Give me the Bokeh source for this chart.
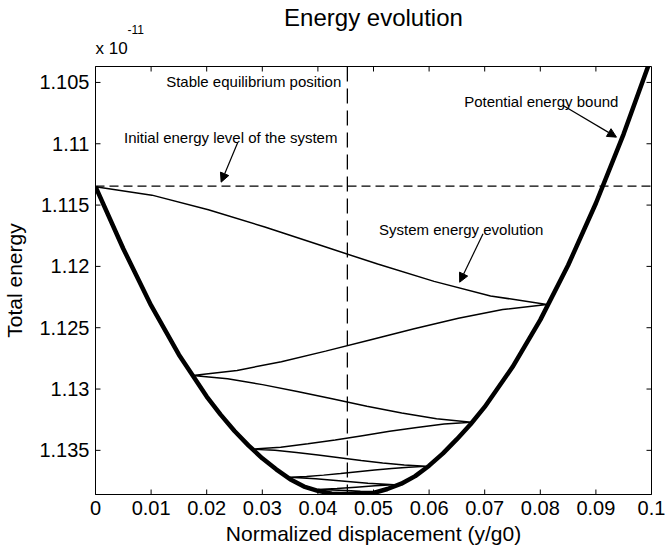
from bokeh.plotting import figure
from bokeh.models import (Range1d, LinearAxis, FixedTicker, CustomJSTickFormatter,
                          Label, Arrow, NormalHead, Span, Title)
from bokeh.embed import file_html
from bokeh.resources import INLINE

# ---------------- data (energy in units of 1e-11) ----------------
x_ticks = [0, 0.01, 0.02, 0.03, 0.04, 0.05, 0.06, 0.07, 0.08, 0.09, 0.1]
y_ticks = [1.105, 1.11, 1.115, 1.12, 1.125, 1.13, 1.135]

# potential energy bound (thick curve)
pot_x = [0, 0.005, 0.01, 0.015, 0.02, 0.0225, 0.025, 0.0275, 0.03, 0.0325, 0.035,
         0.0375, 0.04, 0.0425, 0.045, 0.0475, 0.05, 0.0525, 0.055, 0.0575, 0.06,
         0.0625, 0.065, 0.0675, 0.07, 0.075, 0.08, 0.085, 0.09, 0.095, 0.1]
pot_e = [1.1135, 1.11856, 1.12318, 1.1272, 1.13061, 1.13209, 1.13342, 1.13459,
         1.13565, 1.13655, 1.13735, 1.13795, 1.1383, 1.13853, 1.1386, 1.1386,
         1.13848, 1.13815, 1.13772, 1.1371, 1.13625, 1.13525, 1.13409, 1.13285,
         1.13146, 1.12821, 1.12436, 1.11991, 1.11485, 1.10919, 1.10292]

# system energy evolution (thin line bouncing between the bounds)
traj_x = [0, 0.01015, 0.0203, 0.03045, 0.0406, 0.05075, 0.0609, 0.07105, 0.0812,
          0.07324, 0.06528, 0.05731, 0.04935, 0.04139, 0.03343, 0.02546, 0.0175,
          0.02376, 0.03003, 0.03629, 0.04255, 0.04881, 0.05508, 0.06134, 0.0676,
          0.0627, 0.0578, 0.0529, 0.048, 0.0431, 0.0382, 0.0333, 0.0284,
          0.03228, 0.03615, 0.04003, 0.0439, 0.04778, 0.05165, 0.05553, 0.0594,
          0.05634, 0.05328, 0.05021, 0.04715, 0.04409, 0.04103, 0.03796, 0.0349,
          0.0396, 0.0443, 0.049, 0.0537,
          0.05028, 0.04685, 0.04343, 0.04,
          0.04255, 0.0451, 0.04765, 0.0502,
          0.0462, 0.0422, 0.0453, 0.0484, 0.0462, 0.044]
traj_e = [1.1135, 1.11419, 1.11538, 1.11679, 1.1183, 1.11981, 1.12122, 1.12241, 1.1231,
          1.12352, 1.12423, 1.12509, 1.126, 1.12691, 1.12777, 1.12848, 1.1289,
          1.12917, 1.12964, 1.1302, 1.1308, 1.1314, 1.13196, 1.13243, 1.1327,
          1.13286, 1.13313, 1.13345, 1.1338, 1.13415, 1.13447, 1.13474, 1.1349,
          1.1350, 1.13517, 1.13538, 1.1356, 1.13582, 1.13603, 1.1362, 1.1363,
          1.13637, 1.13648, 1.13661, 1.13675, 1.13689, 1.13702, 1.13714, 1.1372,
          1.13732, 1.1375, 1.13768, 1.1378,
          1.13788, 1.138, 1.13812, 1.1382,
          1.13823, 1.13828, 1.13833, 1.13836,
          1.13841, 1.13846, 1.13849, 1.13851, 1.13853, 1.13855]

initial_energy = 1.11346
equilibrium_x = 0.0453

FONT = "Liberation Sans"
X0, X1 = 0, 0.1
Y_BOTTOM, Y_TOP = 1.1386, 1.1037

p = figure(width=665, height=550, output_backend="svg", toolbar_location=None,
           x_range=Range1d(X0, X1), y_range=Range1d(Y_BOTTOM, Y_TOP),
           x_axis_location=None, y_axis_location=None)
p.min_border_left = 94
p.min_border_right = 14
p.min_border_top = 66
p.min_border_bottom = 56
p.background_fill_color = "white"
p.border_fill_color = "white"
p.outline_line_color = "black"
p.outline_line_width = 1
p.xgrid.visible = False
p.ygrid.visible = False

# titles stacked above the frame: multiplier, superscript, then main title
t_mult = Title(text="x 10", align="left", offset=0, standoff=18,
               text_font=FONT, text_font_size="17px", text_font_style="normal",
               text_color="black")
t_exp = Title(text="-11", align="left", offset=32, standoff=-12,
              text_font=FONT, text_font_size="12px", text_font_style="normal",
              text_color="black")
t_main = Title(text="Energy evolution", align="center", standoff=-6,
               text_font=FONT, text_font_size="24px", text_font_style="normal",
               text_color="black")
p.add_layout(t_mult, "above")
p.add_layout(t_exp, "above")
p.add_layout(t_main, "above")

fmt = CustomJSTickFormatter(code="""
var s = tick.toFixed(3);
s = s.replace(/0+$/, '').replace(/\\.$/, '');
return s;
""")

def style_axis(ax):
    ax.major_tick_in = 0
    ax.major_tick_out = 0
    ax.minor_tick_in = 0
    ax.minor_tick_out = 0
    ax.axis_line_color = "black"
    ax.major_label_text_font = FONT
    ax.major_label_text_color = "black"
    ax.major_label_text_font_size = "20px"
    ax.axis_label_text_font = FONT
    ax.axis_label_text_font_size = "21px"
    ax.axis_label_text_font_style = "normal"
    ax.axis_label_text_color = "black"

xb = LinearAxis(ticker=FixedTicker(ticks=x_ticks), formatter=fmt,
                axis_label="Normalized displacement (y/g0)")
style_axis(xb)
xb.major_label_standoff = 6
xb.axis_label_standoff = 4
p.add_layout(xb, "below")

yl = LinearAxis(ticker=FixedTicker(ticks=y_ticks), formatter=fmt,
                axis_label="Total energy")
style_axis(yl)
yl.major_label_standoff = 6
yl.axis_label_standoff = 10
p.add_layout(yl, "left")

# inward tick marks on all four sides (5 px long)
tx = 5 / 556.5 * (X1 - X0)
ty = 5 / 428.0 * (Y_BOTTOM - Y_TOP)
n_x = len(x_ticks)
n_y = len(y_ticks)
p.segment(x0=x_ticks, y0=[Y_BOTTOM] * n_x, x1=x_ticks, y1=[Y_BOTTOM - ty] * n_x,
          line_color="black", line_width=1)
p.segment(x0=x_ticks, y0=[Y_TOP] * n_x, x1=x_ticks, y1=[Y_TOP + ty] * n_x,
          line_color="black", line_width=1)
p.segment(x0=[X0] * n_y, y0=y_ticks, x1=[X0 + tx] * n_y, y1=y_ticks,
          line_color="black", line_width=1)
p.segment(x0=[X1] * n_y, y0=y_ticks, x1=[X1 - tx] * n_y, y1=y_ticks,
          line_color="black", line_width=1)

# reference lines
p.add_layout(Span(location=initial_energy, dimension="width", line_color="black",
                  line_width=1.3, line_dash="9 5"))
p.add_layout(Span(location=equilibrium_x, dimension="height", line_color="black",
                  line_width=1.3, line_dash="15 7"))

# curves
p.line(traj_x, traj_e, line_color="black", line_width=1.5)
p.line(pot_x, pot_e, line_color="black", line_width=4.5)

# annotations
def note(x, y, txt, align="left"):
    p.add_layout(Label(x=x, y=y, text=txt, text_font=FONT, text_font_size="15px",
                       text_color="black", text_align=align,
                       text_baseline="alphabetic"))

note(0.0442, 1.10492, "Stable equilibrium position", "right")
note(0.00512, 1.10953, "Initial energy level of the system")
note(0.0663, 1.10653, "Potential energy bound")
note(0.0510, 1.11699, "System energy evolution")

def arrow(x0, y0, x1, y1):
    p.add_layout(Arrow(end=NormalHead(size=9, fill_color="black", line_color="black"),
                       x_start=x0, y_start=y0, x_end=x1, y_end=y1,
                       line_color="black", line_width=1.2))

arrow(0.0256, 1.10987, 0.0226, 1.11313)
arrow(0.0841, 1.10688, 0.0937, 1.10946)
arrow(0.0697, 1.11734, 0.0655, 1.12129)

open("out.html", "w").write(file_html(p, INLINE))
